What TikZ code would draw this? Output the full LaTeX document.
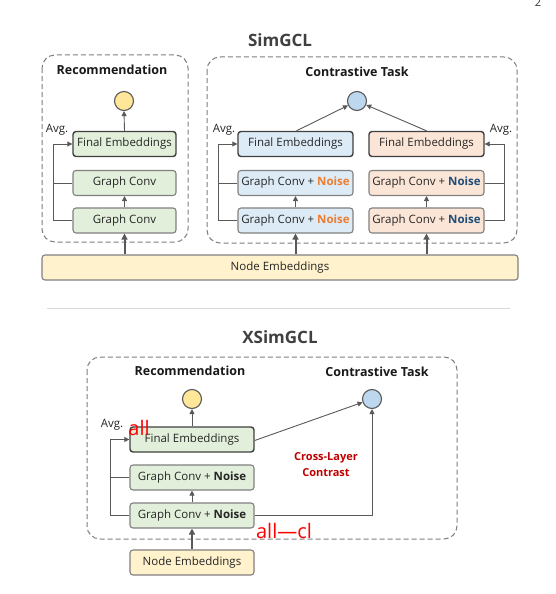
\documentclass[tikz,border=0pt]{standalone}
\usepackage{fontspec}
\setmainfont{Open Sans}
\usetikzlibrary{arrows.meta}
\definecolor{gfill}{HTML}{E2EFDA}
\definecolor{bfill}{HTML}{DDEBF7}
\definecolor{ofill}{HTML}{FBE5D6}
\definecolor{yfill}{HTML}{FFF2CC}
\definecolor{ycirc}{HTML}{FFE699}
\definecolor{bcirc}{HTML}{BDD7EE}
\definecolor{boxgray}{HTML}{808080}
\definecolor{darkline}{HTML}{404040}
\definecolor{arrowgray}{HTML}{595959}
\definecolor{dashgray}{HTML}{7F7F7F}
\definecolor{noiseorange}{HTML}{ED7D31}
\definecolor{noiseblue}{HTML}{1F4E79}
\definecolor{crossred}{HTML}{C00000}
\definecolor{titlegray}{HTML}{404040}
\tikzset{
  box/.style={draw=boxgray, line width=1.1pt, rounded corners=3pt, inner sep=0pt,
    minimum height=25pt, font=\fontsize{11.5}{14}\selectfont, text=black!85},
  finalbox/.style={box, draw=darkline, line width=1.4pt},
  grp/.style={draw=dashgray, line width=1pt, dash pattern=on 5pt off 3pt, rounded corners=13pt},
  arr/.style={draw=arrowgray, line width=0.9pt, -{Triangle[length=5pt,width=5pt]}},
  thickarr/.style={draw=arrowgray, line width=2pt, -{Triangle[length=6pt,width=6pt]}},
  ln/.style={draw=arrowgray, line width=0.9pt},
  circ/.style={circle, draw=arrowgray, line width=1.1pt, minimum size=19pt, inner sep=0pt},
  title/.style={font=\bfseries\fontsize{17}{20}\selectfont, text=titlegray},
  sub/.style={font=\bfseries\fontsize{12.5}{15}\selectfont, text=black!90},
  avg/.style={font=\fontsize{11.5}{13}\selectfont, text=black!85},
  redtxt/.style={font=\fontsize{20}{22}\selectfont, text=red},
}
\begin{document}
\begin{tikzpicture}[x=1pt,y=-1pt]
\useasboundingbox (0,0) rectangle (556,594);
\fill[white] (0,0) rectangle (556,594);
% page number
\node[font=\fontsize{11}{12}\selectfont, text=black!80] (pg) at (538,3) {2};

% ===== SimGCL =====
\node[title] (t1) at (280,40) {SimGCL};
\draw[grp] (42,55) rectangle (188,242);
\draw[grp] (207,57) rectangle (517,243);
\node[sub] (rec1) at (112,70) {Recommendation};
\node[sub] (ct1) at (357,72) {Contrastive Task};

\node[circ, fill=ycirc] (yc1) at (124,101) {};
\node[circ, fill=bcirc] (bc1) at (357,101) {};

\node[finalbox, fill=gfill, minimum width=103pt] (fL) at (124.5,144) {Final Embeddings};
\node[box, fill=gfill, minimum width=103pt] (g1L) at (124.5,183) {Graph Conv};
\node[box, fill=gfill, minimum width=103pt] (g2L) at (124.5,220.5) {Graph Conv};

\node[finalbox, fill=bfill, minimum width=115pt] (fB) at (295.5,144) {Final Embeddings};
\node[box, fill=bfill, minimum width=115pt] (g1B) at (295.5,183) {Graph Conv + \textcolor{noiseorange}{\bfseries Noise}};
\node[box, fill=bfill, minimum width=115pt] (g2B) at (295.5,220.5) {Graph Conv + \textcolor{noiseorange}{\bfseries Noise}};

\node[finalbox, fill=ofill, minimum width=115pt] (fO) at (426.5,144) {Final Embeddings};
\node[box, fill=ofill, minimum width=115pt] (g1O) at (426.5,183) {Graph Conv + \textcolor{noiseblue}{\bfseries Noise}};
\node[box, fill=ofill, minimum width=115pt] (g2O) at (426.5,220.5) {Graph Conv + \textcolor{noiseblue}{\bfseries Noise}};

\node[box, fill=yfill, minimum width=476pt] (ne1) at (280,267.5) {Node Embeddings};

\node[avg] (avgL) at (57,130) {Avg.};
\node[avg] (avgB) at (224,130) {Avg.};
\node[avg] (avgO) at (501,130) {Avg.};

% arrows
\draw[arr] (fL.north) -- (yc1.south);
\draw[arr] (g2L.north) -- (g1L.south);
\draw[arr] (g2B.north) -- (g1B.south);
\draw[arr] (g2O.north) -- (g1O.south);
\draw[arr] ([xshift=1pt]fB.north) -- (bc1);
\draw[arr] (fO.north) -- (bc1);
\draw[thickarr] (ne1.north -| g2L.south) -- (g2L.south);
\draw[thickarr] (ne1.north -| g2B.south) -- (g2B.south);
\draw[thickarr] (ne1.north -| g2O.south) -- (g2O.south);

\coordinate (lxL) at (53,0);
\coordinate (lxB) at (218,0);
\coordinate (lxO) at (504,0);
\draw[arr] (g2L.west) -- (g2L.west -| lxL) |- (fL.west);
\draw[ln] (g1L.west) -- (g1L.west -| lxL);
\draw[arr] (g2B.west) -- (g2B.west -| lxB) |- (fB.west);
\draw[ln] (g1B.west) -- (g1B.west -| lxB);
\draw[arr] (g2O.east) -- (g2O.east -| lxO) |- (fO.east);
\draw[ln] (g1O.east) -- (g1O.east -| lxO);

% separator
\draw[draw=black!15, line width=0.8pt] (47,308) -- (510,308);

% ===== XSimGCL =====
\node[title] (t2) at (280,337) {XSimGCL};
\draw[grp] (87,357) rectangle (457,539);
\node[sub] (rec2) at (190,371) {Recommendation};
\node[sub] (ct2) at (377,372) {Contrastive Task};

\node[circ, fill=ycirc] (yc2) at (192,399) {};
\node[circ, fill=bcirc] (bc2) at (372,399) {};

\node[finalbox, fill=gfill, minimum width=124pt] (fX) at (192,439.5) {Final Embeddings};
\node[box, fill=gfill, minimum width=124pt] (g1X) at (192,477.5) {Graph Conv + \textbf{Noise}};
\node[box, fill=gfill, minimum width=124pt] (g2X) at (192,515.5) {Graph Conv + \textbf{Noise}};
\node[box, fill=yfill, minimum width=124pt] (neX) at (192,562.5) {Node Embeddings};

\node[avg] (avgX) at (112,425) {Avg.};
\node[redtxt] (all1) at (139,428) {all};
\node[redtxt] (all2) at (284,531) {all—cl};
\node[font=\bfseries\fontsize{11}{16}\selectfont, text=crossred, align=center] (cross) at (326,465) {Cross-Layer\\Contrast};

\draw[arr] (fX.north) -- (yc2.south);
\draw[arr] (g2X.north) -- (g1X.south);
\draw[thickarr] (neX.north) -- (g2X.south);
\coordinate (lxX) at (110,0);
\draw[arr] (g2X.west) -- (g2X.west -| lxX) |- (fX.west);
\draw[ln] (g1X.west) -- (g1X.west -| lxX);
\draw[arr] ([yshift=-1pt]fX.east) -- (bc2);
\draw[arr] (g2X.east) -| (bc2.south);
\end{tikzpicture}
\end{document}
